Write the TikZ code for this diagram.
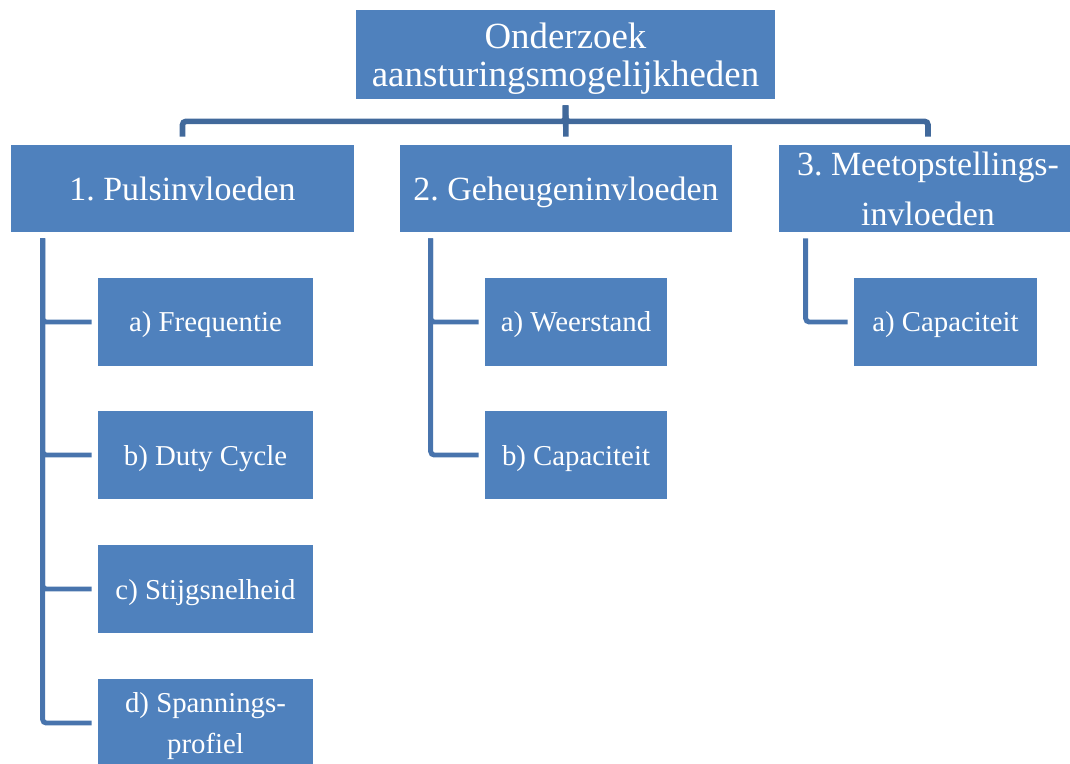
\documentclass[tikz,border=0pt]{standalone}
\usepackage{fontspec}
\setmainfont{Liberation Serif}
\frenchspacing
\definecolor{boxblue}{HTML}{4F81BD}
\definecolor{lineblue}{HTML}{41699B}
\definecolor{sublineblue}{HTML}{4874AD}
\begin{document}
\begin{tikzpicture}[x=0.02cm, y=-0.02cm,
    box/.style={fill=boxblue, text=white, inner sep=0pt, align=center, text depth=0pt},
    topbox/.style={box, minimum width=8.38cm, minimum height=1.78cm, font=\fontsize{21}{21.5}\selectfont},
    mainbox/.style={box, minimum height=1.74cm, font=\fontsize{19.3}{28.3}\selectfont},
    subbox/.style={box, minimum height=1.78cm, font=\fontsize{16.4}{23.2}\selectfont},
    topline/.style={draw=lineblue, line width=3.2pt, rounded corners=2pt, shorten <=0.12cm, shorten >=0.16cm},
    subline/.style={draw=sublineblue, line width=2.8pt, rounded corners=2pt, shorten >=0.12cm}]
    \useasboundingbox (0,0) rectangle (1070,763);

    % top
    \node[topbox] (top) at (565.5,54.5) {Onderzoek\\aansturingsmogelijkheden};

    % first level
    \node[mainbox, minimum width=6.86cm] (p1) at (182.5,188.5) {1. Pulsinvloeden};
    \node[mainbox, minimum width=6.64cm] (p2) at (566,188.5) {2. Geheugeninvloeden};
    \node[mainbox, minimum width=5.96cm] (p3) at (928,188.5) {3. Meetopstellings-\\invloeden};

    % second level
    \node[subbox, minimum width=4.3cm] (a1) at (205.5,322) {a) Frequentie};
    \node[subbox, minimum width=4.3cm] (b1) at (205.5,455) {b) Duty Cycle};
    \node[subbox, minimum width=4.3cm] (c1) at (205.5,589) {c) Stijgsnelheid};
    \node[subbox, minimum width=4.3cm] (d1) at (205.5,723) {d) Spannings-\\profiel};
    \node[subbox, minimum width=3.64cm] (a2) at (576,322) {a) Weerstand};
    \node[subbox, minimum width=3.64cm] (b2) at (576,455) {b) Capaciteit};
    \node[subbox, minimum width=3.66cm] (a3) at (945.5,322) {a) Capaciteit};

    % connectors
    \draw[topline] (top.south) -- ++(0,22) -| (p1.north);
    \draw[topline] (top.south) -- (p2.north);
    \draw[topline] (top.south) -- ++(0,22) -| (p3.north);
    \foreach \c in {a1,b1,c1,d1}
        \draw[subline] (p1.south west) ++(32,6) |- (\c.west);
    \foreach \c in {a2,b2}
        \draw[subline] (p2.south west) ++(31,6) |- (\c.west);
    \draw[subline] (p3.south west) ++(27,6) |- (a3.west);
\end{tikzpicture}
\end{document}
